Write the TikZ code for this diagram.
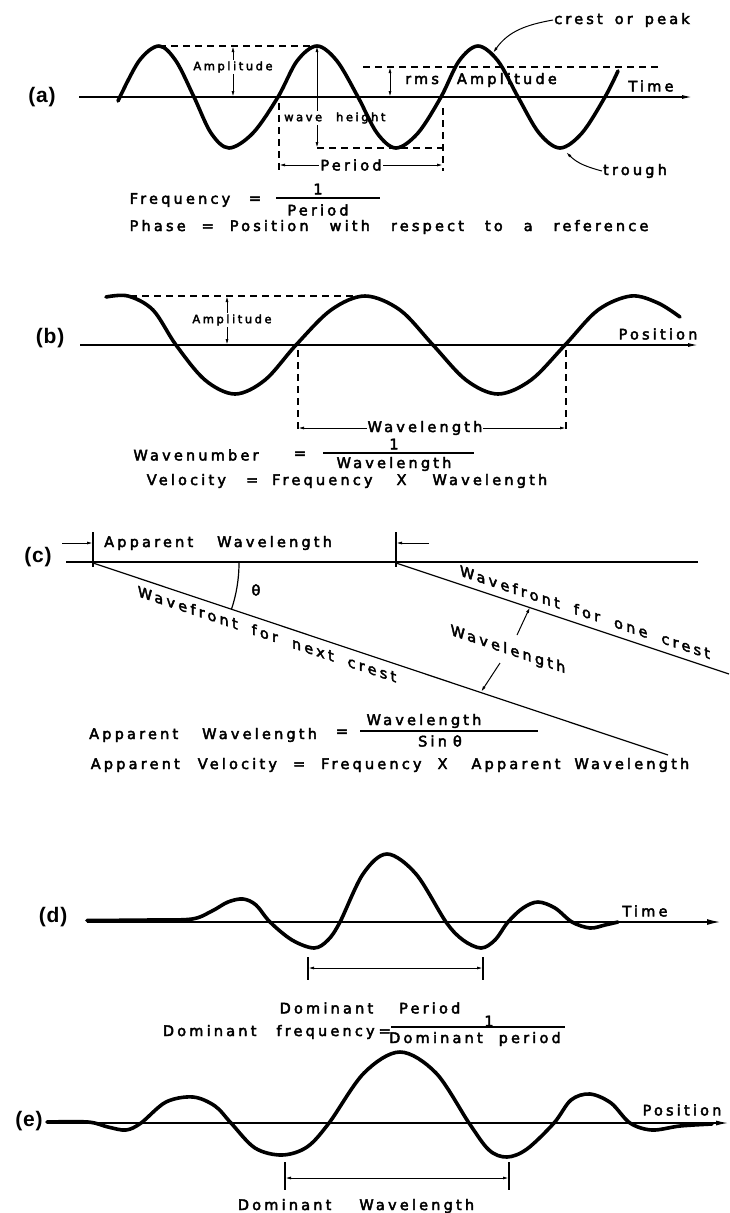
\documentclass[tikz,border=0pt]{standalone}
\usepackage{fontspec}
\setmainfont{DejaVu Sans}[LetterSpace=22, FakeBold=3]
\newfontfamily\tagfont{Liberation Sans}[LetterSpace=4]
\usetikzlibrary{arrows.meta}
\newcommand{\gp}[1]{\hspace{#1pt}}

\begin{document}
\begin{tikzpicture}[x=1pt, y=-1pt,
    wave/.style={line width=3.6pt, line cap=round, line join=round},
    axisln/.style={line width=1.2pt, -{Latex[length=10pt,width=4pt]}},
    thinln/.style={line width=1.2pt},
    dashln/.style={line width=1.2pt, dash pattern=on 7pt off 5pt},
    dimln/.style={line width=1pt, {Latex[length=6pt,width=3pt]}-{Latex[length=6pt,width=3pt]}},
    ptr/.style={line width=1pt, -{Latex[length=6pt,width=3pt]}},
    lbl/.style={font=\fontsize{14.5}{16}\selectfont, inner sep=1pt},
    sml/.style={font=\fontsize{11.5}{13}\selectfont, inner sep=1pt},
    tag/.style={font=\tagfont\bfseries\fontsize{21}{23}\selectfont, inner sep=0pt}]
  \useasboundingbox (0,0) rectangle (729,1213);

  % (a) time series
  \node[tag] (ta) at (42,97) {(a)};
  \coordinate (a0) at (79,97);
  \coordinate (a1) at (692,97);
  \draw[axisln] (a0) -- (a1);
  \node[lbl] (timea) at (651,86) {Time};
  \draw[dashln] (159,46) -- (317,46);
  \draw[dashln] (363,67) -- (661,67);
  \draw[dashln] (317,148) -- (443,148);
  \draw[dashln] (279,103) -- (279,171);
  \draw[dashln] (443,108) -- (443,171);
  \coordinate (ampta) at (233,46);
  \coordinate (ampba) at (233,97);
  \draw[dimln] (ampta) -- (ampba);
  \node[sml, fill=white] (ampa) at (233,67) {Amplitude};
  \coordinate (wht) at (317,46);
  \coordinate (whb) at (317,148);
  \draw[dimln] (wht) -- (whb);
  \node[sml, fill=white, anchor=west] (wh) at (283,118) {wave\gp{14}height};
  \coordinate (rmst) at (390,67);
  \coordinate (rmsb) at (390,97);
  \draw[dimln] (rmst) -- (rmsb);
  \node[lbl, anchor=west] (rms) at (404,80) {rms\gp{18}Amplitude};
  \coordinate (perl) at (279,165);
  \coordinate (perr) at (443,165);
  \draw[dimln] (perl) -- (perr);
  \node[lbl, fill=white] (per) at (351,165) {Period};
  \draw[wave] plot[smooth, tension=0.55] coordinates {(118,101) (139,61) (159,46) (176,61)
    (194,97) (211,133) (229,148) (253,133) (278,97) (297,61) (317,46) (337,61) (358,97)
    (377,133) (396,148) (418,133) (441,97) (459,61) (478,46) (498,61) (518,97) (539,133)
    (560,148) (582,133) (605,97) (618,71)};
  \node[lbl] (crest) at (622,20) {crest\gp{12}or\gp{12}peak};
  \coordinate (pk3) at (493,53);
  \draw[ptr] (crest.west) to[out=190, in=55] (pk3);
  \node[lbl] (trgh) at (635,171) {trough};
  \coordinate (tr3) at (566,152);
  \draw[ptr] (trgh.west) to[out=165, in=-45] (tr3);
  \node[lbl] (freq) at (180,200) {Frequency};
  \node[lbl] (eqa) at (255,200) {=};
  \node[lbl] (onea) at (318,189) {1};
  \node[lbl] (pera) at (318,210) {Period};
  \draw[thinln] (276,198) -- (380,198);
  \node[lbl] (phase) at (389,227) {Phase\gp{16}=\gp{16}Position\gp{21}with\gp{21}respect\gp{21}to\gp{21}a\gp{21}reference};

  % (b) space series
  \node[tag] (tb) at (50,338) {(b)};
  \coordinate (b0) at (80,345);
  \coordinate (b1) at (698,345);
  \draw[axisln] (b0) -- (b1);
  \node[lbl] (posb) at (658,334) {Position};
  \draw[dashln] (130,296) -- (362,296);
  \draw[dashln] (298,350) -- (298,433);
  \draw[dashln] (566,350) -- (566,433);
  \coordinate (amptb) at (227,296);
  \coordinate (ampbb) at (227,345);
  \draw[dimln] (amptb) -- (ampbb);
  \node[sml, fill=white] (ampb) at (232,320) {Amplitude};
  \coordinate (wll) at (298,428);
  \coordinate (wlr) at (566,428);
  \draw[dimln] (wll) -- (wlr);
  \node[lbl, fill=white] (wlb) at (425,428) {Wavelength};
  \draw[wave] plot[smooth, tension=0.55] coordinates {(106,297) (128,296) (153,310) (176,345)
    (205,380) (235,394) (265,380) (296,345) (331,310) (365,296) (400,310) (433,345) (466,380)
    (498,394) (531,380) (565,345) (598,310) (631,296) (658,303) (680,317)};
  \node[lbl] (wnum) at (196,455) {Wavenumber};
  \node[lbl] (eqb) at (300,455) {=};
  \node[lbl] (oneb) at (394,444) {1};
  \node[lbl] (wlden) at (394,464) {Wavelength};
  \draw[thinln] (323,453) -- (474,453);
  \node[lbl] (velo) at (347,481) {Velocity\gp{20}=\gp{14}Frequency\gp{24}X\gp{26}Wavelength};

  % (c) wavefronts
  \node[tag] (tc) at (38,557) {(c)};
  \coordinate (c0) at (66,562);
  \coordinate (c1) at (698,562);
  \draw[thinln] (c0) -- (c1);
  \draw[thinln] (93,532) -- (93,567);
  \draw[thinln] (396,532) -- (396,567);
  \coordinate (awl) at (93,543);
  \coordinate (awr) at (396,543);
  \draw[ptr] (62,543) -- (awl);
  \draw[ptr] (429,543) -- (awr);
  \node[lbl, anchor=west] (appw) at (103,543) {Apparent\gp{24}Wavelength};
  \coordinate (f1s) at (93,563);
  \coordinate (f1e) at (668,755);
  \coordinate (f2s) at (396,563);
  \coordinate (f2e) at (729,674);
  \draw[thinln] (f1s) -- (f1e);
  \draw[thinln] (f2s) -- (f2e);
  \draw[thinln] (239,563) arc[start angle=0, end angle=18.46, radius=146];
  \node[lbl] (th) at (256,590) {θ};
  \node[lbl, yslant=-0.334] (wfn) at (267,634) {Wavefront\gp{14}for\gp{14}next\gp{14}crest};
  \node[lbl, yslant=-0.334] (wfo) at (585,612) {Wavefront\gp{14}for\gp{14}one\gp{14}crest};
  \node[lbl, yslant=-0.334] (wlc) at (508,650) {Wavelength};
  \coordinate (wlct) at (530,607);
  \coordinate (wlcb) at (481,692);
  \draw[ptr] (517,635) -- (wlct);
  \draw[ptr] (500,663) -- (wlcb);
  \node[lbl, anchor=west] (appw2) at (88,735) {Apparent\gp{24}Wavelength};
  \node[lbl] (eqc) at (342,733) {=};
  \node[lbl] (wlnum) at (424,721) {Wavelength};
  \node[lbl] (sinth) at (440,741) {Sin\gp{6}θ};
  \draw[thinln] (360,731) -- (538,731);
  \node[lbl] (appv) at (390,765) {Apparent\gp{18}Velocity\gp{16}=\gp{16}Frequency\gp{16}X\gp{24}Apparent\gp{14}Wavelength};

  % (d) wavelet in time
  \node[tag] (td) at (53,917) {(d)};
  \coordinate (d0) at (87,922);
  \coordinate (d1) at (720,922);
  \draw[line width=1.2pt, -{Latex[length=13pt,width=6pt]}] (d0) -- (d1);
  \node[lbl] (timed) at (645,911) {Time};
  \draw[wave] plot[smooth, tension=0.55] coordinates {(87,920.5) (150,920) (192,919) (212,911)
    (228,902) (243,899) (256,905) (270,922) (292,940) (314,948) (328,940) (340,922) (363,874)
    (387,854) (416,874) (446,922) (463,940) (481,948) (495,940) (508,922) (523,908) (538,902)
    (555,908) (572,922) (590,928) (605,925) (618,922)};
  \draw[thinln] (308,957) -- (308,980);
  \draw[thinln] (483,957) -- (483,980);
  \coordinate (dpl) at (308,968);
  \coordinate (dpr) at (483,968);
  \draw[dimln] (dpl) -- (dpr);
  \node[lbl] (dp) at (370,1008) {Dominant\gp{26}Period};
  \node[lbl, anchor=east] (dfq) at (392,1032) {Dominant\gp{20}frequency\gp{4}=};
  \node[lbl] (oned) at (489,1021) {1};
  \node[lbl] (dpden) at (475,1039) {Dominant\gp{16}period};
  \draw[thinln] (391,1027) -- (565,1027);

  % (e) wavelet in space
  \node[tag] (te) at (29,1121) {(e)};
  \coordinate (e0) at (47,1123);
  \coordinate (e1) at (728,1123);
  \draw[line width=1.2pt, -{Latex[length=12pt,width=5pt]}] (e0) -- (e1);
  \node[lbl] (pose) at (682,1110) {Position};
  \draw[wave] plot[smooth, tension=0.55] coordinates {(47,1122) (88,1122) (108,1127) (126,1130)
    (141,1123) (166,1102) (193,1097) (215,1106) (231,1123) (255,1148) (282,1155) (307,1147)
    (329,1123) (364,1073) (400,1052) (436,1073) (469,1123) (489,1150) (507,1157) (527,1149)
    (554,1123) (571,1100) (590,1094) (611,1103) (630,1123) (652,1130) (680,1126) (712,1124)};
  \draw[thinln] (285,1162) -- (285,1190);
  \draw[thinln] (509,1162) -- (509,1190);
  \coordinate (dwl) at (285,1178);
  \coordinate (dwr) at (509,1178);
  \draw[dimln] (dwl) -- (dwr);
  \node[lbl] (dw) at (356,1206) {Dominant\gp{28}Wavelength};
\end{tikzpicture}
\end{document}
